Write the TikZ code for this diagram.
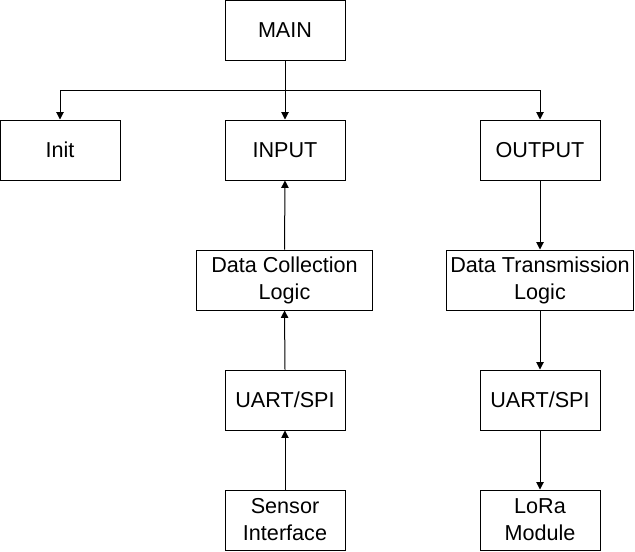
\documentclass[tikz,border=0pt]{standalone}
\usepackage{fontspec}
\setmainfont{Liberation Sans}
\usetikzlibrary{arrows.meta}
\begin{document}
\begin{tikzpicture}[x=0.75pt,y=-0.75pt,
  box/.style={draw=black, line width=0.75pt, fill=white, inner sep=0pt, align=center,
    font=\fontsize{16.2}{20.3}\selectfont},
  conn/.style={draw=black, line width=0.75pt, -{Triangle[length=5.5pt,width=5.5pt]}}]
\useasboundingbox (0,0) rectangle (635,551);
\node[box, minimum width=90pt, minimum height=45pt] (main) at (285,30) {MAIN};
\node[box, minimum width=90pt, minimum height=45pt] (init) at (60,150) {Init};
\node[box, minimum width=90pt, minimum height=45pt] (input) at (285,150) {INPUT};
\node[box, minimum width=90pt, minimum height=45pt] (output) at (540,150) {OUTPUT};
\node[box, minimum width=131.5pt, minimum height=45pt] (dcl) at (284.5,280) {Data Collection\\Logic};
\node[box, minimum width=140.5pt, minimum height=45pt] (dtl) at (540,280) {Data Transmission\\Logic};
\node[box, minimum width=90pt, minimum height=45pt] (uartl) at (285,400) {UART/SPI};
\node[box, minimum width=90pt, minimum height=45pt] (uartr) at (540,400) {UART/SPI};
\node[box, minimum width=90pt, minimum height=45pt] (sensor) at (285,520) {Sensor\\Interface};
\node[box, minimum width=90pt, minimum height=45pt] (lora) at (540,520) {LoRa\\Module};
\coordinate (split) at (285,90);
\draw[conn] (main.south) -- (input.north);
\draw[conn] (split) -| (init.north);
\draw[conn] (split) -| (output.north);
\draw[conn] (dcl.north) -- (input.south);
\draw[conn] (uartl.north) -- (dcl.south);
\draw[conn] (sensor.north) -- (uartl.south);
\draw[conn] (output.south) -- (dtl.north);
\draw[conn] (dtl.south) -- (uartr.north);
\draw[conn] (uartr.south) -- (lora.north);
\end{tikzpicture}
\end{document}
